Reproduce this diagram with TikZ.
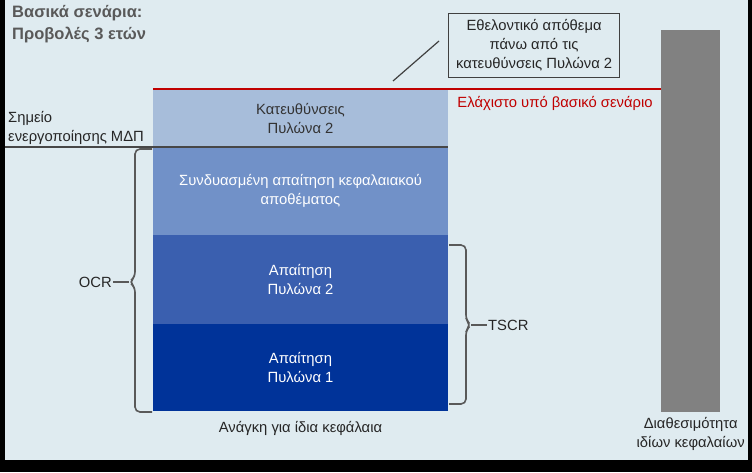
\documentclass[tikz,border=0pt]{standalone}
\usepackage{fontspec}
\setmainfont{Liberation Sans}
\usepackage{xcolor}
\usetikzlibrary{positioning}
\definecolor{panelbg}{HTML}{DFEBF0}
\definecolor{pil2g}{HTML}{A7BDDA}
\definecolor{combo}{HTML}{7191C8}
\definecolor{pil2r}{HTML}{3A5FAF}
\definecolor{pil1r}{HTML}{003399}
\definecolor{minred}{HTML}{C00000}
\definecolor{bracegray}{HTML}{595959}
\definecolor{titlegray}{HTML}{595959}

\begin{document}
\begin{tikzpicture}[
  x=1pt, y=-1pt,
  blk/.style={minimum width=295pt, inner sep=0pt, outer sep=0pt, align=center, text=white, font=\fontsize{14.8}{19}\selectfont},
  lbl/.style={align=center, inner sep=1pt, text=black!85, font=\fontsize{14.8}{19}\selectfont},
  brc/.style={draw=bracegray, line width=1.6pt, rounded corners=5pt},
  tick/.style={draw=bracegray, line width=1.6pt}
]
  % panel with shadow
  \fill[black] (0,0) rectangle (752,472);
  \fill[panelbg] (5,0) rectangle (748,460);
  \useasboundingbox (0,0) rectangle (752,472);

  \node[anchor=north west, align=left, inner sep=0pt, text=titlegray, font=\bfseries\fontsize{16.5}{22}\selectfont] (title) at (12,5) {Βασικά σενάρια:\\Προβολές 3 ετών};

  % capital stack
  \node[blk, fill=pil2g, text=black!80, minimum height=58pt] (pil2g) at (300.5,118) {Κατευθύνσεις\\Πυλώνα 2};
  \node[blk, fill=combo, minimum height=88pt, below=0pt of pil2g] (combo) {Συνδυασμένη απαίτηση κεφαλαιακού\\αποθέματος};
  \node[blk, fill=pil2r, minimum height=89pt, below=0pt of combo] (pil2r) {Απαίτηση\\Πυλώνα 2};
  \node[blk, fill=pil1r, minimum height=87pt, below=0pt of pil2r] (pil1r) {Απαίτηση\\Πυλώνα 1};
  \node[lbl, below=9pt of pil1r] (need) {Ανάγκη για ίδια κεφάλαια};

  % available capital
  \node[fill=gray!99, draw=none, minimum width=59pt, minimum height=382pt, inner sep=0pt, anchor=north west] (bar) at (661,30) {};
  \node[lbl, below=4pt of bar] (avail) {Διαθεσιμότητα\\ιδίων κεφαλαίων};

  % minimum line
  \draw[minred, line width=1.6pt] (pil2g.north west) -- (pil2g.north west -| bar.west);
  \node[lbl, text=minred, anchor=north] (minlbl) at (555,95) {Ελάχιστο υπό βασικό σενάριο};

  % MDP trigger point
  \node[lbl, anchor=south west, align=left] (mdp) at (7,146) {Σημείο\\ενεργοποίησης ΜΔΠ};
  \coordinate (mdpstart) at (5,147);
  \draw[bracegray!80!black, line width=1.6pt] (mdpstart) -- (pil2g.south east);

  % voluntary buffer callout
  \node[lbl, draw=black!75, line width=1.2pt, fill=panelbg, minimum width=171pt, minimum height=64pt, inner sep=2pt, anchor=north west] (vol) at (448,13) {Εθελοντικό απόθεμα\\πάνω από τις\\κατευθύνσεις Πυλώνα 2};
  \coordinate (volfoot) at (393,81);
  \coordinate (volhead) at (439,41);
  \draw[black!75, line width=1.2pt] (volfoot) -- (volhead);

  % OCR brace
  \draw[brc] (152,149) -| (135,277) -- (129,282) -- (135,287) |- (152,412);
  \coordinate (ocrtip) at (129,282);
  \node[lbl, anchor=east] (ocr) at (113,282) {OCR};
  \draw[tick] (ocrtip) -- (ocr.east);

  % TSCR brace
  \draw[brc] (449,245) -| (466,320) -- (471,325) -- (466,330) |- (449,404);
  \coordinate (tscrtip) at (471,325);
  \node[lbl, anchor=west] (tscr) at (487,325) {TSCR};
  \draw[tick] (tscrtip) -- (tscr.west);
\end{tikzpicture}
\end{document}
